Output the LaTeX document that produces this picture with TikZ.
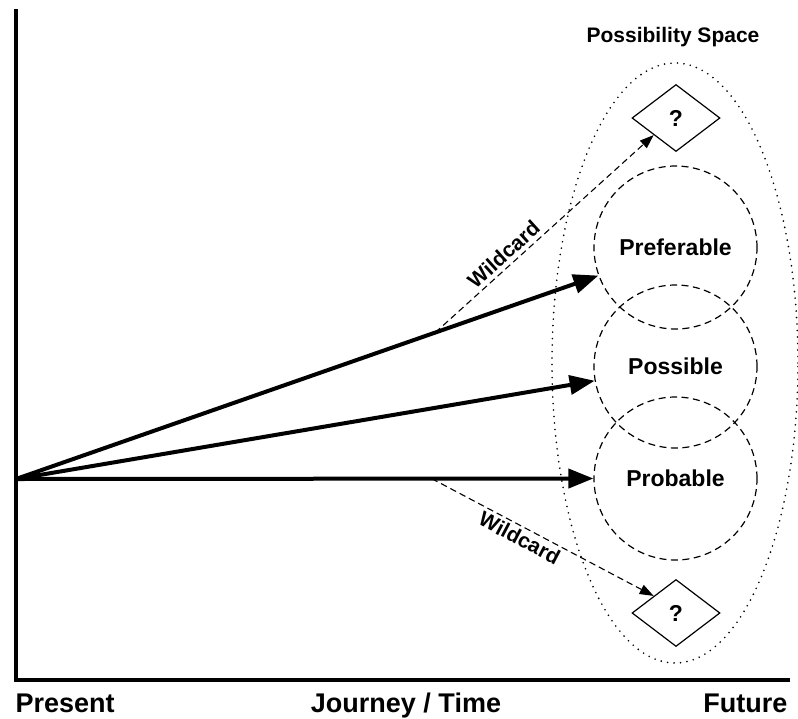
\documentclass[tikz,border=0pt]{standalone}
\usepackage{fontspec}
\setmainfont{Liberation Sans}
\usetikzlibrary{arrows.meta,shapes.geometric}
\begin{document}
\begin{tikzpicture}[x=1pt, y=-1pt,
		axis/.style={line width=4.5pt},
		path/.style={line width=4pt, -{Triangle[length=25pt, width=19pt]}},
		wild/.style={line width=1.1pt, dash pattern=on 6.5pt off 4pt, -{Triangle[length=14pt, width=10pt]}},
		outcome/.style={draw, circle, line width=1.2pt, dash pattern=on 7pt off 4.5pt, minimum size=163pt, inner sep=0pt, font=\fontsize{23}{26}\selectfont\bfseries},
		unknown/.style={draw, diamond, line width=1.2pt, minimum width=88pt, minimum height=67pt, inner sep=0pt, font=\fontsize{23}{26}\selectfont\bfseries},
		label/.style={font=\fontsize{27}{30}\selectfont\bfseries, anchor=base},
		tag/.style={font=\fontsize{21}{24}\selectfont\bfseries}]
		\useasboundingbox (0,0) rectangle (798,718);
		
		% axes
		\coordinate (top) at (16,9);
		\coordinate (corner) at (16,680);
		\coordinate (end) at (790,680);
		\draw [axis] (top) -- (corner) -- (end);
		\node [label, anchor=base west] (present) at (12,712) {Present};
		\node [label] (journey) at (406,712) {Journey / Time};
		\node [label, anchor=base east] (future) at (791,712) {Future};
		
		% possibility space
		\node [draw, ellipse, line width=1.8pt, line cap=round, dash pattern=on 0pt off 6.5pt, minimum width=246pt, minimum height=600pt] (space) at (675,363) {};
		\node [tag] (spacelabel) at (673,37) {Possibility Space};
		
		\node [outcome] (pref) at (675.5,247.5) {Preferable};
		\node [outcome] (poss) at (675.5,366.5) {Possible};
		\node [outcome] (prob) at (675.5,478.5) {Probable};
		
		\node [unknown] (q1) at (676,118) {?};
		\node [unknown] (q2) at (676,613) {?};
		
		% journeys
		\coordinate (now) at (16,479);
		\draw [path] (now) -- (pref.200) coordinate [pos=0.72] (w1);
		\draw [path] (now) -- (poss.190);
		\draw [path] (now) -- (prob.west) coordinate [pos=0.72] (w2);
		
		\draw [wild] (w1) -- node [tag, sloped, above, pos=0.35, inner sep=4pt] {Wildcard} (q1.south west);
		\draw [wild] (w2) -- node [tag, sloped, below, pos=0.42, inner sep=3pt] {Wildcard} (q2.north west);
\end{tikzpicture}
\end{document}
